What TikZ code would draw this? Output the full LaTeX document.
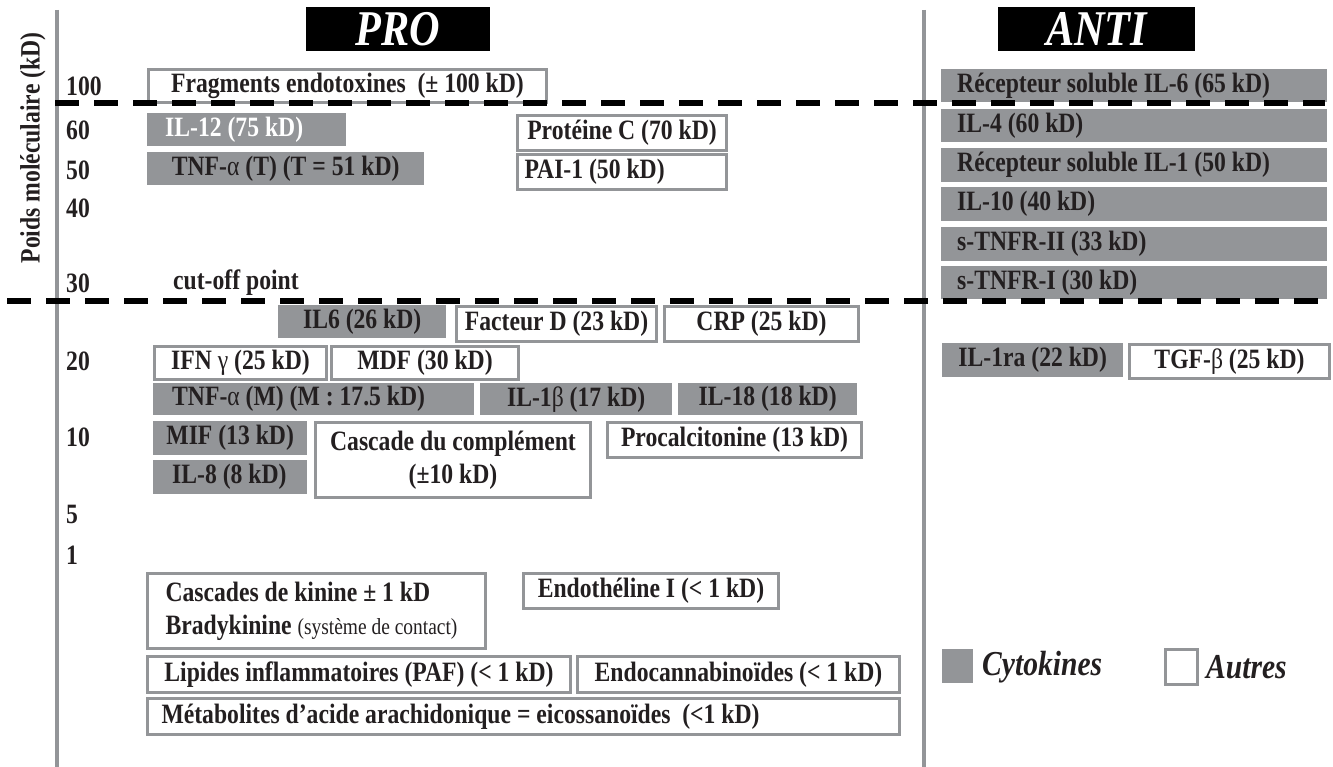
\documentclass[tikz,border=0pt]{standalone}
\usepackage{fontspec}
\setmainfont{Liberation Serif}[FakeStretch=0.845]
\definecolor{cg}{RGB}{147,149,152}
\definecolor{ink}{RGB}{35,31,32}
\newcommand{\boxfont}{\fontsize{28}{33}\selectfont\bfseries}
\newcommand{\hdrfont}{\fontsize{50}{52}\selectfont\bfseries\itshape}
\newcommand{\legfont}{\fontsize{35}{38}\selectfont\bfseries\itshape}
\newcommand{\up}[1]{{\mdseries #1}}
\tikzset{
  base/.style={anchor=north west, inner sep=0pt, text=ink, font=\boxfont},
  cyt/.style={base, fill=cg, draw=none},
  oth/.style={base, fill=white, draw=cg, line width=3pt},
  sz/.style 2 args={minimum width=#1pt, minimum height=#2pt},
  lft/.style 2 args={text width=#1pt, inner xsep=#2pt, align=flush left},
  hdr/.style={fill=black, text=white, font=\hdrfont, inner sep=0pt, minimum width=190pt, minimum height=44pt},
  tick/.style={anchor=west, inner sep=0pt, text=ink, font=\boxfont},
  axisline/.style={draw=cg, line width=4pt},
  cut/.style={draw=black, line width=6pt, dash pattern=on 24pt off 15pt},
  leg/.style={anchor=west, inner sep=0pt, text=ink, font=\legfont}
}
\begin{document}
\begin{tikzpicture}[x=1pt,y=-1pt]
\useasboundingbox (0,0) rectangle (1333,767);
% axes
\coordinate (ax1t) at (57,10); \coordinate (ax1b) at (57,767);
\coordinate (ax2t) at (924,10); \coordinate (ax2b) at (924,767);
\draw[axisline] (ax1t) -- (ax1b);
\draw[axisline] (ax2t) -- (ax2b);
\node[rotate=90, inner sep=0pt, text=ink, font=\boxfont] (ylab) at (33,148) {Poids moléculaire (kD)};
% headers
\node[hdr, minimum width=184pt] (pro) at (398,29) {PRO};
\node[hdr, minimum width=197pt] (anti) at (1096.5,29) {ANTI};
% ticks
\node[tick] (t100) at (66,86) {100};
\node[tick] (t60) at (66,130) {60};
\node[tick] (t50) at (66,170) {50};
\node[tick] (t40) at (66,208) {40};
\node[tick] (t30) at (66,283) {30};
\node[tick] (t20) at (66,361) {20};
\node[tick] (t10) at (66,437) {10};
\node[tick] (t5) at (66,514) {5};
\node[tick] (t1) at (66,555) {1};
\node[tick] (cutoff) at (173,283) {cut-off point};
% PRO upper
\node[oth, sz={398}{33}] (frag) at (147,68) {Fragments endotoxines\ \ (± 100 kD)};
\node[cyt, sz={199}{33}, lft={163}{18}, text=white] (il12) at (147,113) {\mbox{IL-12 (75 kD)}};
\node[cyt, sz={277}{33}] (tnft) at (147,152) {TNF-\up{α} (T) (T = 51 kD)};
\node[oth, sz={209}{35}] (protc) at (516,114) {Protéine C (70 kD)};
\node[oth, sz={209}{35}, lft={195}{7}] (pai) at (516,153) {\mbox{PAI-1 (50 kD)}};
% ANTI upper
\node[cyt, sz={386}{33}, lft={354}{16}] (ril6) at (941,69) {\mbox{Récepteur soluble IL-6 (65 kD)}};
\node[cyt, sz={386}{33}, lft={354}{16}] (il4) at (941,109) {\mbox{IL-4 (60 kD)}};
\node[cyt, sz={386}{34}, lft={354}{16}] (ril1) at (941,148) {\mbox{Récepteur soluble IL-1 (50 kD)}};
\node[cyt, sz={386}{34}, lft={354}{16}] (il10) at (941,187) {\mbox{IL-10 (40 kD)}};
\node[cyt, sz={386}{34}, lft={354}{16}] (tnfr2) at (941,227) {\mbox{s-TNFR-II (33 kD)}};
\node[cyt, sz={386}{33}, lft={354}{16}] (tnfr1) at (941,266) {\mbox{s-TNFR-I (30 kD)}};
% PRO lower
\node[cyt, sz={168}{33}] (il6) at (278,305) {IL6 (26 kD)};
\node[oth, sz={200}{35}] (factd) at (455,305) {Facteur D (23 kD)};
\node[oth, sz={194}{35}] (crp) at (663,305) {CRP (25 kD)};
\node[oth, sz={172}{33}] (ifn) at (153,345) {IFN \up{γ} (25 kD)};
\node[oth, sz={187}{33}] (mdf) at (330,345) {MDF (30 kD)};
\node[cyt, sz={321}{32}, lft={283}{19}] (tnfm) at (153,383) {\mbox{TNF-\up{α} (M) (M : 17.5 kD)}};
\node[cyt, sz={192}{32}] (il1b) at (480,383) {IL-1\up{β} (17 kD)};
\node[cyt, sz={179}{32}] (il18) at (678,383) {IL-18 (18 kD)};
\node[cyt, sz={154}{34}] (mif) at (153,421) {MIF (13 kD)};
\node[cyt, sz={154}{34}, lft={116}{19}] (il8) at (153,460) {\mbox{IL-8 (8 kD)}};
\node[oth, sz={275}{75}, align=center] (compl) at (314,421) {Cascade du complément\\(±10 kD)};
\node[oth, sz={254}{35}] (pct) at (606,421) {Procalcitonine (13 kD)};
\node[oth, sz={338}{75}, lft={302}{18}] (kin) at (146,572) {\mbox{Cascades de kinine ± 1 kD}\\\mbox{Bradykinine {\fontsize{23}{24}\selectfont\mdseries (système de contact)}}};
\node[oth, sz={255}{35}] (endo) at (522,572) {Endothéline I (< 1 kD)};
\node[oth, sz={423}{36}] (lip) at (146,655) {Lipides inflammatoires (PAF) (< 1 kD)};
\node[oth, sz={322}{36}] (ecb) at (576,655) {Endocannabinoïdes (< 1 kD)};
\node[oth, sz={752}{36}, lft={724}{14}] (meta) at (146,697) {\mbox{Métabolites d’acide arachidonique = eicossanoïdes\ \ (<1 kD)}};
% ANTI lower
\node[cyt, sz={181}{34}] (il1ra) at (942,343) {IL-1ra (22 kD)};
\node[oth, sz={200}{34}] (tgfb) at (1128,343) {TGF-\up{β} (25 kD)};
% legend
\node[cyt, sz={31}{34}] (legc) at (942,649) {};
\node[oth, sz={32}{35}] (lego) at (1164,648) {};
\node[leg] (legct) at (982,667) {Cytokines};
\node[leg] (legot) at (1206,667) {Autres};
% cut-off dashed lines
\coordinate (c1a) at (55,103); \coordinate (c1b) at (1325,103);
\coordinate (c2a) at (7,301); \coordinate (c2b) at (1325,301);
\draw[cut] (c1a) -- (c1b);
\draw[cut] (c2a) -- (c2b);
\end{tikzpicture}
\end{document}
